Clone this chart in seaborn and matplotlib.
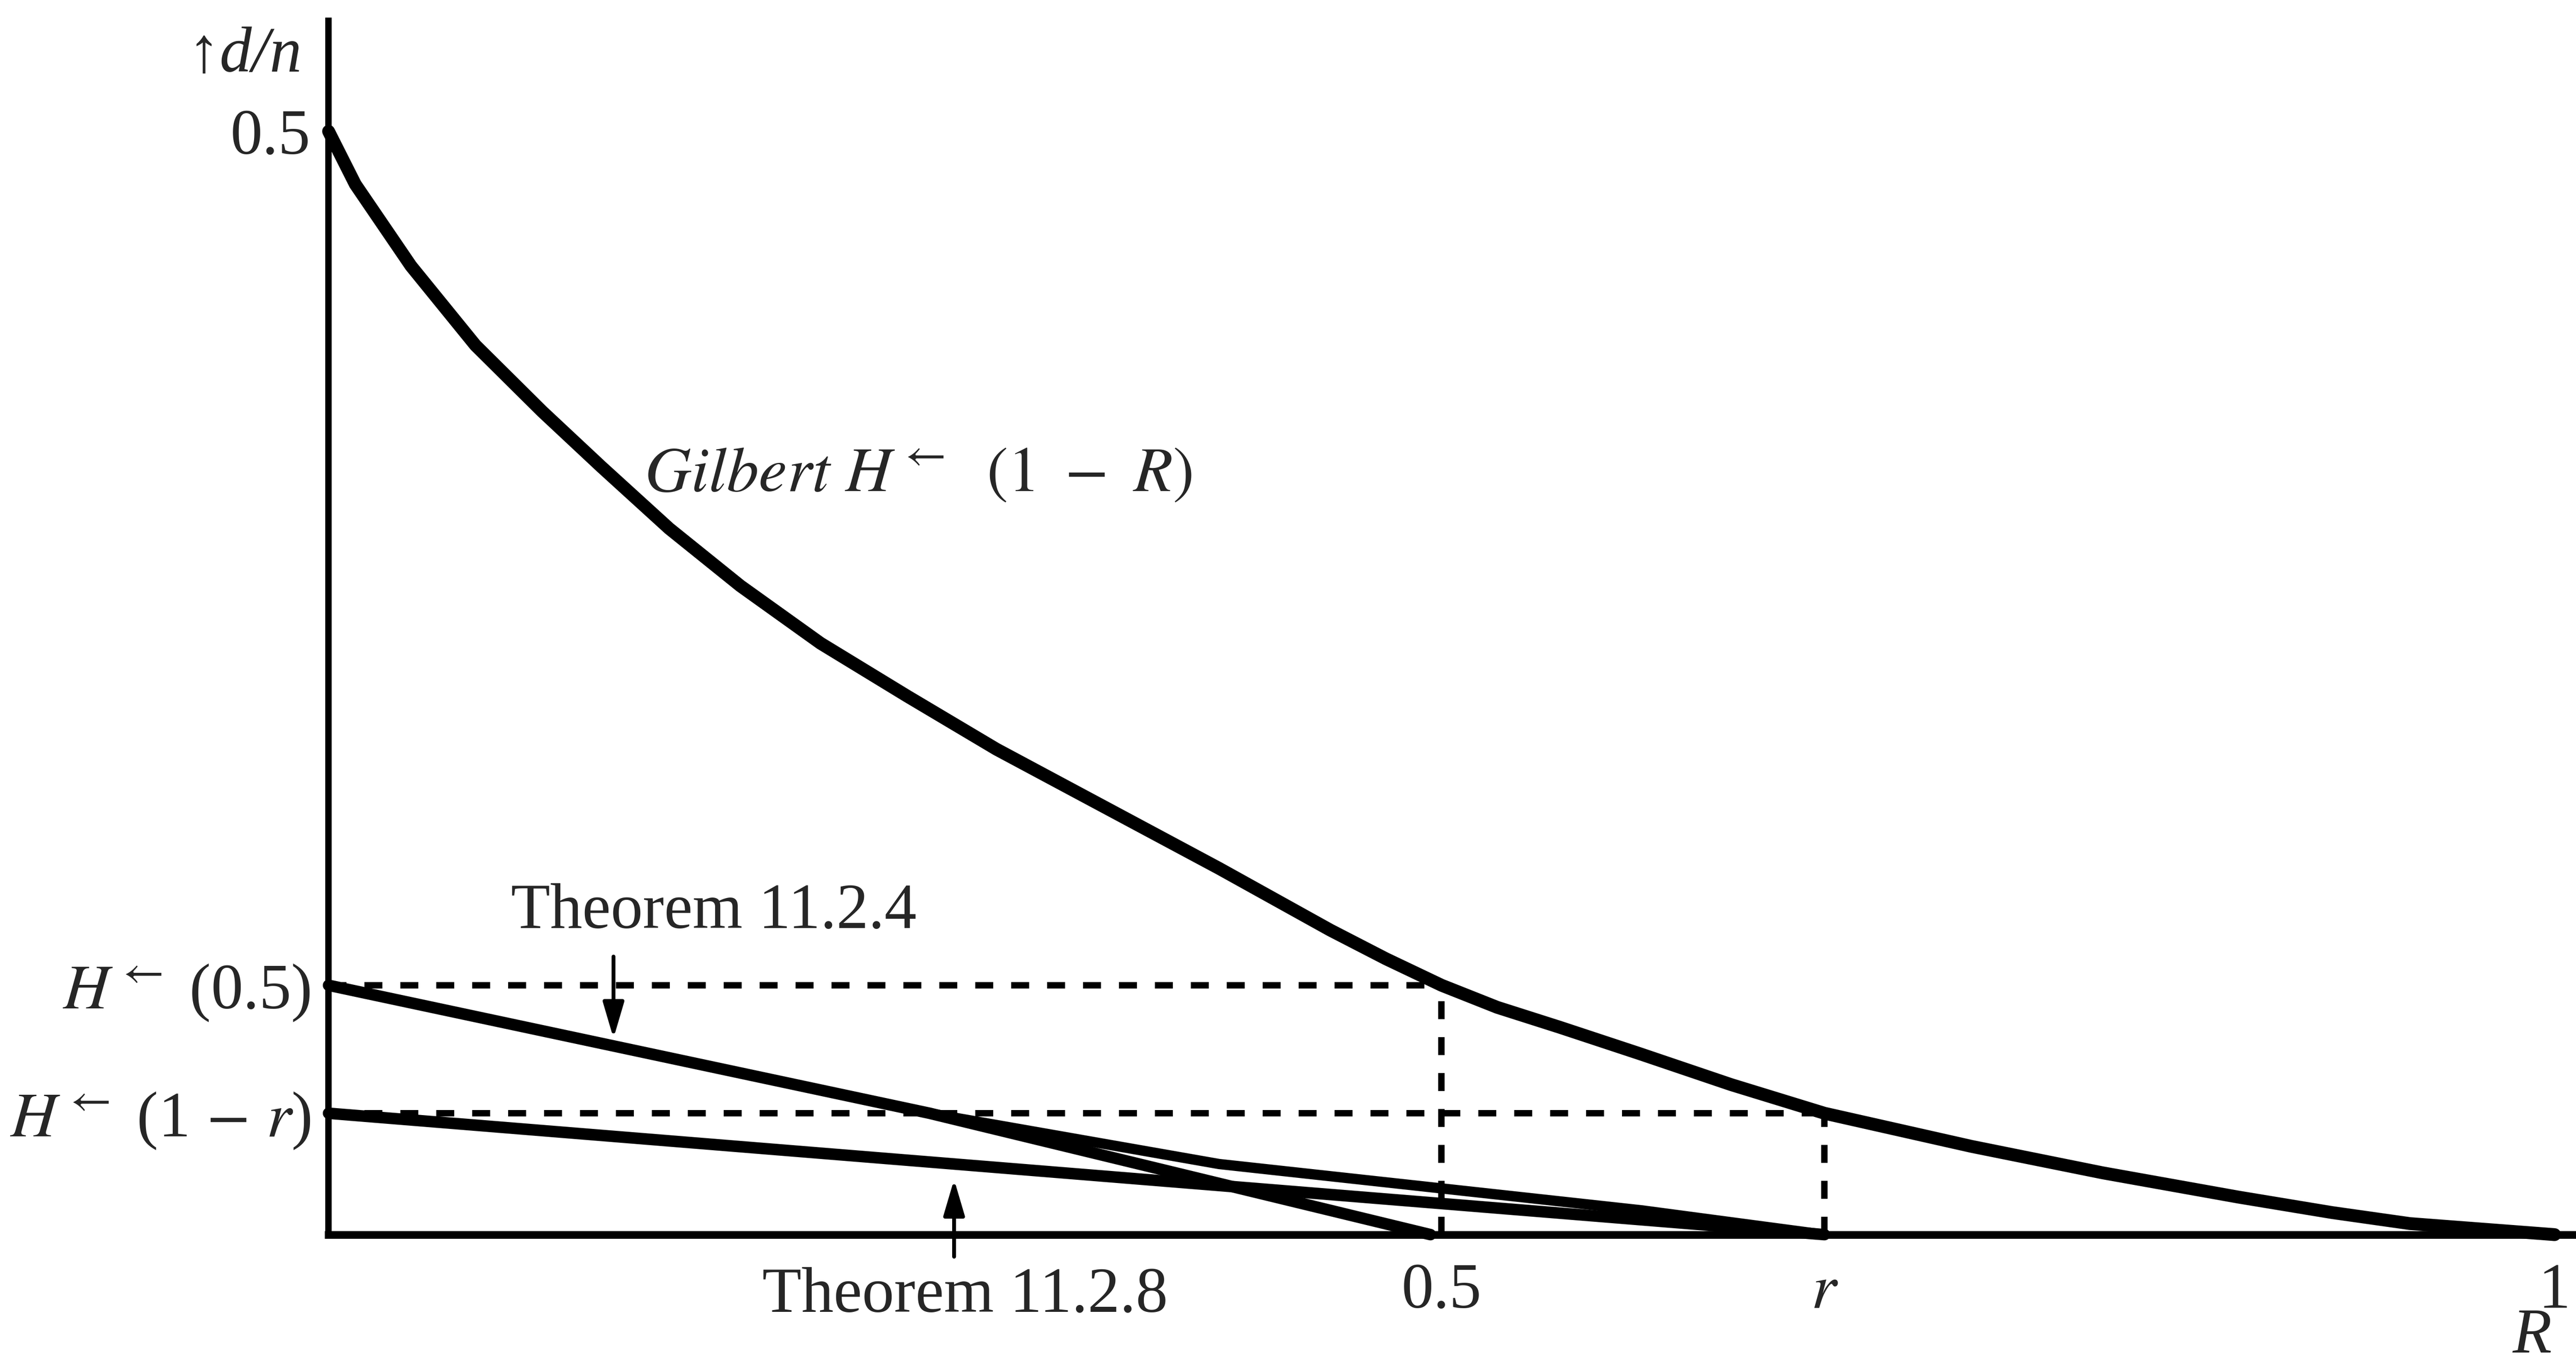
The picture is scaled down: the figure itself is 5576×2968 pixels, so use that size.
import matplotlib
matplotlib.use("Agg")
import matplotlib.pyplot as plt
import seaborn as sns

# values (R on the x axis, d/n on the y axis)
gilbert_R = [0.0, 0.012, 0.037, 0.066, 0.096, 0.1225, 0.153, 0.185, 0.221, 0.26,
             0.30, 0.35, 0.40, 0.45, 0.475, 0.5, 0.525, 0.553, 0.589, 0.63,
             0.672, 0.738, 0.797, 0.858, 0.9, 0.935, 1.0]
gilbert_d = [0.5, 0.476, 0.439, 0.403, 0.373, 0.348, 0.320, 0.294, 0.268, 0.244,
             0.220, 0.193, 0.166, 0.138, 0.125, 0.113, 0.103, 0.094, 0.082, 0.068,
             0.055, 0.040, 0.028, 0.017, 0.010, 0.005, 0.0]

thm_1124_R = [0.0, 0.27, 0.495]
thm_1124_d = [0.113, 0.055, 0.0]

joint_R = [0.27, 0.40, 0.59, 0.672]
joint_d = [0.055, 0.032, 0.011, 0.0]

thm_1128_R = [0.0, 0.672]
thm_1128_d = [0.055, 0.0]

r_value = 0.672
h_half = 0.113          # H^<-(0.5)
h_one_minus_r = 0.055   # H^<-(1 - r)

guide_levels = [h_half, h_one_minus_r]
guide_ends = [0.5, r_value]

xtick_pos = [0.5, r_value, 1.0]
xtick_labels = ["0.5", "$r$", "1"]
ytick_pos = [0.5, h_half, h_one_minus_r]
ytick_labels = ["0.5", r"$H^{\leftarrow}$ (0.5)", r"$H^{\leftarrow}$ (1 $-$ $r$)"]


def main():
    sns.set_style("white")
    plt.rcParams["font.family"] = ["Liberation Serif", "DejaVu Serif"]
    plt.rcParams["mathtext.fontset"] = "stix"

    fig = plt.figure(figsize=(27.88, 14.84), dpi=200)
    ax = fig.add_axes([0, 0, 1, 1])
    ax.set_xlim(-0.1476, 1.0096)
    ax.set_ylim(-0.0618, 0.5595)

    # dashed guide lines
    ax.hlines(guide_levels, 0, guide_ends, colors="black", linewidth=5,
              linestyles=[(0, (2.8, 2.8))])
    ax.vlines(guide_ends, 0, guide_levels, colors="black", linewidth=5,
              linestyles=[(0, (2.8, 2.8))])

    sns.lineplot(x=gilbert_R, y=gilbert_d, ax=ax, color="black", linewidth=10,
                 estimator=None, sort=False)
    sns.lineplot(x=thm_1124_R, y=thm_1124_d, ax=ax, color="black", linewidth=9,
                 estimator=None, sort=False)
    sns.lineplot(x=joint_R, y=joint_d, ax=ax, color="black", linewidth=8,
                 estimator=None, sort=False)
    sns.lineplot(x=thm_1128_R, y=thm_1128_d, ax=ax, color="black", linewidth=9,
                 estimator=None, sort=False)

    # axes through the origin
    for side in ["top", "right"]:
        ax.spines[side].set_visible(False)
    ax.spines["left"].set_position(("data", 0))
    ax.spines["bottom"].set_position(("data", 0))
    ax.spines["left"].set_bounds(0, 0.55)
    ax.spines["bottom"].set_bounds(0, 1.0096)
    ax.spines["left"].set_linewidth(5)
    ax.spines["bottom"].set_linewidth(6)
    ax.spines["left"].set_color("black")
    ax.spines["bottom"].set_color("black")

    ax.set_xticks(xtick_pos, xtick_labels)
    ax.set_yticks(ytick_pos, ytick_labels)
    ax.tick_params(axis="x", length=0, pad=22, labelsize=50)
    ax.tick_params(axis="y", length=0, pad=14, labelsize=50)
    ax.set_xlabel("")
    ax.set_ylabel("")
    ax.grid(False)

    ax.text(-0.012, 0.534, "\u2191d/n", style="italic", fontsize=50,
            ha="right", va="center")
    ax.text(0.99, -0.0598, "R", style="italic", fontsize=50, ha="center", va="bottom")

    ax.text(0.142, 0.344, r"$\mathit{Gilbert}\ H^{\leftarrow}\ \ (1\ -\ R)$",
            fontsize=50, ha="left", va="center")
    ax.text(0.173, 0.146, "Theorem 11.2.4", fontsize=50, ha="center", va="center")
    ax.text(0.286, -0.028, "Theorem 11.2.8", fontsize=50, ha="center", va="center")

    arrow = dict(arrowstyle="-|>,head_length=0.95,head_width=0.28", color="black",
                 lw=3, mutation_scale=25, shrinkA=0, shrinkB=0)
    ax.annotate("", xy=(0.128, 0.089), xytext=(0.128, 0.126), arrowprops=arrow)
    ax.annotate("", xy=(0.281, 0.025), xytext=(0.281, -0.010), arrowprops=arrow)

    fig.savefig("out.png", dpi=200)


if __name__ == "__main__":
    main()
